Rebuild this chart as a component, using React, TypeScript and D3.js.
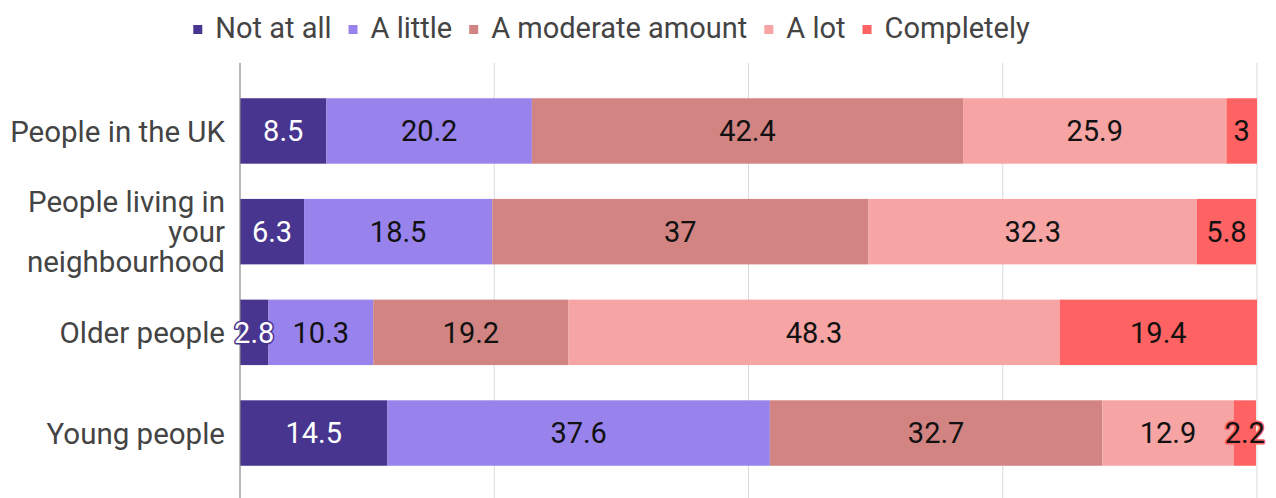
import React, { useRef, useEffect } from "react";
import * as d3 from "d3";

const categories = [
  "People in the UK",
  "People living in your neighbourhood",
  "Older people",
  "Young people",
];
const seriesNames = ["Not at all", "A little", "A moderate amount", "A lot", "Completely"];
const notAtAll = [8.5, 6.3, 2.8, 14.5];
const aLittle = [20.2, 18.5, 10.3, 37.6];
const aModerateAmount = [42.4, 37, 19.2, 32.7];
const aLot = [25.9, 32.3, 48.3, 12.9];
const completely = [3, 5.8, 19.4, 2.2];
const xTicks = [0, 25, 50, 75, 100];

const colors = ["#483590", "#9882eb", "#d28482", "#f7a4a4", "#ff6262"];
const textColors = ["#ffffff", "#111111", "#111111", "#111111", "#111111"];

const App = () => {
  const svgRef = useRef<SVGSVGElement>(null);

  useEffect(() => {
    const svg = d3.select(svgRef.current);
    svg.selectAll("*").remove();

    const width = 1276;
    const height = 498;
    const font = "Roboto, 'Noto Sans', sans-serif";

    const rows = categories.map((c, i) => ({
      category: c,
      "Not at all": notAtAll[i],
      "A little": aLittle[i],
      "A moderate amount": aModerateAmount[i],
      "A lot": aLot[i],
      "Completely": completely[i],
    }));

    const stacked = d3.stack<any>().keys(seriesNames)(rows);

    const x = d3.scaleLinear().domain([0, 100]).range([240, 1257]);
    const y = d3.scaleBand().domain(categories).range([63, 501]).padding(0.35);

    svg.append("rect").attr("width", width).attr("height", height).attr("fill", "#fff");

    // grid
    svg.append("g")
      .selectAll("line")
      .data(xTicks.slice(1))
      .join("line")
      .attr("x1", d => x(d))
      .attr("x2", d => x(d))
      .attr("y1", 63)
      .attr("y2", height)
      .attr("stroke", "#d9d9d9")
      .attr("stroke-width", 1);

    // bars
    const layers = svg.append("g")
      .selectAll("g")
      .data(stacked)
      .join("g")
      .attr("fill", (d, i) => colors[i]);

    layers.selectAll("rect")
      .data(d => d)
      .join("rect")
      .attr("x", d => x(d[0]))
      .attr("y", d => y(d.data.category)!)
      .attr("width", d => x(d[1]) - x(d[0]))
      .attr("height", y.bandwidth());

    // axis line
    svg.append("line")
      .attr("x1", x(0))
      .attr("x2", x(0))
      .attr("y1", 63)
      .attr("y2", height)
      .attr("stroke", "#888")
      .attr("stroke-width", 1.2);

    // value labels
    const labels = svg.append("g");
    stacked.forEach((layer, i) => {
      labels.selectAll(null)
        .data(layer)
        .join("text")
        .attr("x", d => (x(d[0]) + x(d[1])) / 2)
        .attr("y", d => y(d.data.category)! + y.bandwidth() / 2)
        .attr("dy", "0.36em")
        .attr("text-anchor", "middle")
        .attr("font-family", font)
        .attr("font-size", 29)
        .attr("fill", textColors[i])
        .attr("stroke", colors[i])
        .attr("stroke-width", 3)
        .attr("stroke-linejoin", "round")
        .attr("paint-order", "stroke")
        .text(d => String(d[1] - d[0] > 0 ? +(d[1] - d[0]).toFixed(1) : ""));
    });

    // category labels with wrapping
    const maxW = 226;
    const catG = svg.append("g");
    categories.forEach(c => {
      const t = catG.append("text")
        .attr("text-anchor", "end")
        .attr("font-family", font)
        .attr("font-size", 29.5)
        .attr("fill", "#444");
      const words = c.split(" ");
      const lines: string[] = [];
      let line: string[] = [];
      const probe = t.append("tspan");
      words.forEach(w => {
        const test = [...line, w].join(" ");
        probe.text(test);
        if ((probe.node() as SVGTSpanElement).getComputedTextLength() > maxW && line.length) {
          lines.push(line.join(" "));
          line = [w];
        } else {
          line.push(w);
        }
      });
      lines.push(line.join(" "));
      probe.remove();
      const lh = 30;
      const cy = y(c)! + y.bandwidth() / 2;
      lines.forEach((l, k) => {
        t.append("tspan")
          .attr("x", 225)
          .attr("y", cy + (k - (lines.length - 1) / 2) * lh)
          .attr("dy", "0.36em")
          .text(l);
      });
    });

    // legend
    const legend = svg.append("g");
    const items = legend.selectAll("g")
      .data(seriesNames)
      .join("g");
    items.append("rect")
      .attr("y", 25)
      .attr("width", 9)
      .attr("height", 9)
      .attr("fill", (d, i) => colors[i]);
    items.append("text")
      .attr("x", 22)
      .attr("y", 38)
      .attr("font-family", font)
      .attr("font-size", 29)
      .attr("fill", "#444")
      .text(d => d);

    let offset = 0;
    const positions: number[] = [];
    items.each(function () {
      positions.push(offset);
      const tw = (d3.select(this).select("text").node() as SVGTextElement).getComputedTextLength();
      offset += 22 + tw + 17;
    });
    const total = offset - 17;
    const start = 611.5 - total / 2;
    items.attr("transform", (d, i) => `translate(${start + positions[i]},0)`);
  }, []);

  return (
    <svg
      ref={svgRef}
      width={1276}
      height={498}
      style={{ position: "absolute", left: 0, top: 0, display: "block" }}
    />
  );
};

export default App;
